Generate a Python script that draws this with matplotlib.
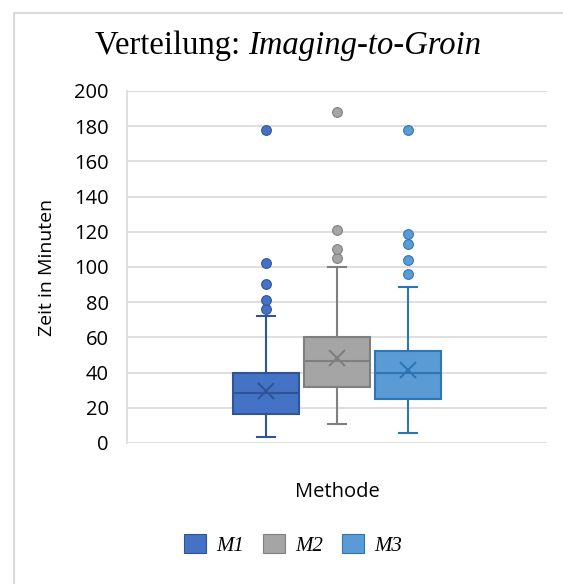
import numpy as np
import matplotlib
matplotlib.use('Agg')
import matplotlib.pyplot as plt
from matplotlib.patches import Patch, Rectangle

# Werte
methods = ['M1', 'M2', 'M3']
q1 = [16.6, 31.7, 24.9]
median = [28.3, 46.4, 39.6]
q3 = [39.6, 60.4, 52.1]
whisker_lo = [3.4, 10.6, 5.7]
whisker_hi = [72.0, 100.0, 88.7]
means = [29.8, 48.5, 41.5]
outliers = [
    [76.2, 81.1, 90.2, 102.0, 178.0],
    [105.1, 110.4, 121.1, 188.0],
    [96.0, 103.8, 113.0, 119.0, 178.0],
]
yticks = [0, 20, 40, 60, 80, 100, 120, 140, 160, 180, 200]

fill_colors = ['#4472C4', '#A5A5A5', '#5B9BD5']
edge_colors = ['#2F5597', '#7F7F7F', '#2E75B6']

sans = ['Open Sans', 'DejaVu Sans']
serif = ['Liberation Serif', 'DejaVu Serif']

fig = plt.figure(figsize=(5.63, 5.84), dpi=100)
ax = fig.add_axes([127 / 563, 141 / 584, 420 / 563, 352 / 584])

positions = [0.331, 0.5, 0.669]
for i in range(3):
    stats = [{
        'q1': q1[i], 'med': median[i], 'q3': q3[i],
        'whislo': whisker_lo[i], 'whishi': whisker_hi[i],
        'mean': means[i], 'fliers': outliers[i], 'label': methods[i],
    }]
    ec = edge_colors[i]
    ax.bxp(stats, positions=[positions[i]], widths=0.155, capwidths=0.045,
           patch_artist=True, showmeans=True, manage_ticks=False,
           boxprops=dict(facecolor=fill_colors[i], edgecolor=ec, linewidth=1.5),
           medianprops=dict(color=ec, linewidth=1.5),
           whiskerprops=dict(color=ec, linewidth=1.5),
           capprops=dict(color=ec, linewidth=1.5),
           meanprops=dict(marker='x', markersize=11, markeredgecolor=ec,
                          markeredgewidth=1.5),
           flierprops=dict(marker='o', markersize=7, markerfacecolor=fill_colors[i],
                           markeredgecolor=ec, markeredgewidth=0.8),
           zorder=3)

ax.set_xlim(0, 1)
ax.set_ylim(0, 200)
ax.set_yticks(yticks)
ax.set_yticklabels([str(t) for t in yticks], family=sans, fontsize=14.5)
ax.set_xticks([])
ax.tick_params(axis='y', length=0, pad=13)
ax.grid(axis='y', color='#D9D9D9', linewidth=1.2, zorder=0)
ax.set_axisbelow(True)
for s in ['top', 'right', 'bottom']:
    ax.spines[s].set_visible(False)
ax.spines['left'].set_color('#D9D9D9')
ax.spines['left'].set_linewidth(1.2)

ax.set_ylabel('Zeit in Minuten', family=sans, fontsize=14, labelpad=13)
fig.text(337 / 563, 1 - 492 / 584, 'Methode', family=sans, fontsize=14.5,
         ha='center', va='center')

# Titel: normal + kursiv
fig.canvas.draw()
r = fig.canvas.get_renderer()
t1 = fig.text(0, 1 - 46 / 584, 'Verteilung: ', family=serif, fontsize=23.5,
              va='center', ha='left')
t2 = fig.text(0, 1 - 46 / 584, 'Imaging-to-Groin', family=serif, fontsize=23.5,
              style='italic', va='center', ha='left')
w1 = t1.get_window_extent(r).width
w2 = t2.get_window_extent(r).width
x0 = 288 - (w1 + w2) / 2
t1.set_x(x0 / 563)
t2.set_x((x0 + w1) / 563)

handles = [Patch(facecolor=fill_colors[i], edgecolor=edge_colors[i], linewidth=0.8)
           for i in range(3)]
fig.legend(handles, methods, loc='center', bbox_to_anchor=(293 / 563, 1 - 545 / 584),
           ncol=3, frameon=False, prop=dict(family=serif, style='italic', size=15),
           handlelength=1.05, handleheight=1.05, handletextpad=0.5, columnspacing=0.9)

# Rahmen des Diagrammbereichs
fig.patches.append(Rectangle((13.5 / 563, -0.1), 1.2, 1 - 13.5 / 584 + 0.1,
                             transform=fig.transFigure, fill=False,
                             edgecolor='#D9D9D9', linewidth=1.5))

fig.savefig('out.png', dpi=100)
